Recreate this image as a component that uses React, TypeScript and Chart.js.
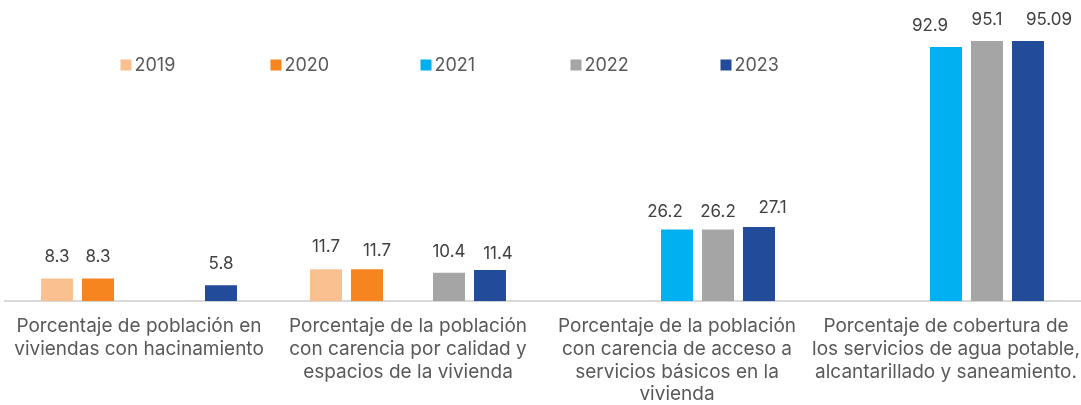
import React, { useEffect, useRef } from "react";
import { Chart, registerables } from "chart.js";

Chart.register(...registerables);

const categories: string[][] = [
  ["Porcentaje de población en", "viviendas con hacinamiento"],
  ["Porcentaje de la población", "con carencia por calidad y", "espacios de la vivienda"],
  ["Porcentaje de la población", "con carencia de acceso a", "servicios básicos en la", "vivienda"],
  ["Porcentaje de cobertura de", "los servicios de agua potable,", "alcantarillado y saneamiento."],
];

const seriesNames = ["2019", "2020", "2021", "2022", "2023"];
const s2019 = [8.3, 11.7, null, null];
const s2020 = [8.3, 11.7, null, null];
const s2021 = [null, null, 26.2, 92.9];
const s2022 = [null, 10.4, 26.2, 95.1];
const s2023 = [5.8, 11.4, 27.1, 95.09];
const seriesColors = ["#FAC090", "#F6841F", "#00B0F0", "#A5A5A5", "#224B9A"];

// Manual nudges of some value labels, as in the original: [dx, gap above bar]
const labelNudges: Record<string, [number, number]> = {
  "1:1": [10, 13],
  "3:1": [0, 16],
  "4:1": [8, 11],
  "0:1": [0, 17],
  "2:2": [-12, 12],
  "3:2": [0, 12],
  "4:2": [13.5, 14],
  "2:3": [-16, 16],
  "4:3": [21, 16],
};

const FONT = "Inter, sans-serif";

const valueLabels = {
  id: "valueLabels",
  afterDatasetsDraw(chart: any) {
    const ctx = chart.ctx;
    ctx.save();
    ctx.font = `17px ${FONT}`;
    ctx.fillStyle = "#404040";
    ctx.textAlign = "center";
    ctx.textBaseline = "alphabetic";
    chart.data.datasets.forEach((ds: any, i: number) => {
      const meta = chart.getDatasetMeta(i);
      meta.data.forEach((bar: any, j: number) => {
        const v = ds.data[j];
        if (v === null || v === undefined) return;
        const [dx, gap] = labelNudges[`${i}:${j}`] || [0, 16];
        ctx.fillText(String(v), bar.x + dx, bar.y - gap);
      });
    });
    ctx.restore();
  },
};

const floatingLegend = {
  id: "floatingLegend",
  afterDraw(chart: any) {
    const ctx = chart.ctx;
    ctx.save();
    ctx.font = `18px ${FONT}`;
    ctx.textBaseline = "middle";
    ctx.textAlign = "left";
    const startX = chart.chartArea.left + 116;
    const y = 65;
    chart.data.datasets.forEach((ds: any, i: number) => {
      const x = startX + i * 150;
      ctx.fillStyle = ds.backgroundColor;
      ctx.fillRect(x, y - 5.5, 11, 11);
      ctx.fillStyle = "#595959";
      ctx.fillText(ds.label, x + 14, y + 1);
    });
    ctx.restore();
  },
};

export default function App() {
  const ref = useRef<HTMLCanvasElement | null>(null);
  useEffect(() => {
    if (!ref.current) return;
    const allSeries = [s2019, s2020, s2021, s2022, s2023];
    const chart = new Chart(ref.current, {
      type: "bar",
      data: {
        labels: categories,
        datasets: allSeries.map((d, i) => ({
          label: seriesNames[i],
          data: d,
          backgroundColor: seriesColors[i],
          borderWidth: 0,
          categoryPercentage: 0.762,
          barPercentage: 0.78,
        })),
      },
      options: {
        animation: false,
        responsive: false,
        maintainAspectRatio: false,
        layout: { padding: { left: 4.5, right: 0.5, top: 27.5, bottom: -15 } },
        plugins: {
          legend: { display: false },
          tooltip: { enabled: false },
        },
        scales: {
          x: {
            grid: { display: false, drawTicks: false },
            border: { display: true, color: "#D9D9D9", width: 2 },
            ticks: {
              color: "#595959",
              font: { family: FONT, size: 19, lineHeight: 1.195 },
              padding: 14,
              maxRotation: 0,
              minRotation: 0,
              autoSkip: false,
            },
            afterFit: (scale: any) => {
              scale.paddingLeft = 0;
              scale.paddingRight = 0;
            },
          },
          y: {
            display: false,
            min: 0,
            max: 100,
          },
        },
      },
      plugins: [valueLabels, floatingLegend],
    });
    return () => chart.destroy();
  }, []);
  return (
    <div style={{ position: "fixed", left: 0, top: 0, width: 1081, height: 405, background: "#fff" }}>
      <canvas ref={ref} width={1081} height={405} style={{ width: 1081, height: 405 }} />
    </div>
  );
}
